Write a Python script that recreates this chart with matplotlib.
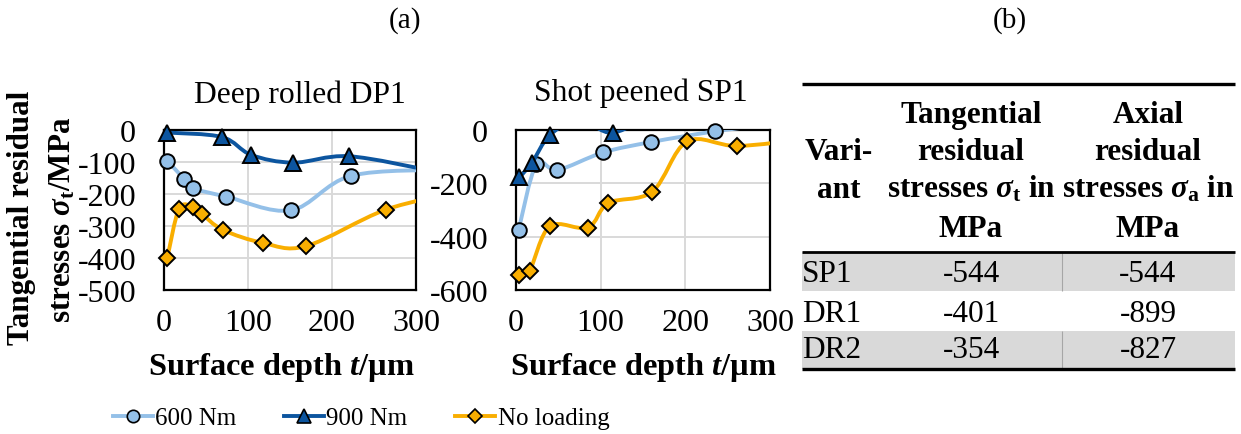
import numpy as np
import matplotlib
matplotlib.use("Agg")
import matplotlib.pyplot as plt
from matplotlib.path import Path
from matplotlib.patches import PathPatch
from matplotlib.lines import Line2D

# ---------------------------------------------------------------
# DATA (points beyond the axes are only
# there so the smoothed lines leave the plot area like in Excel)
# ---------------------------------------------------------------
# Deep rolled DP1
dp_600_x = [4, 24, 35, 74, 151, 223, 340]
dp_600_y = [-96, -153, -182, -208, -251, -143, -124]
dp_900_x = [4, 69, 104, 154, 220, 320]
dp_900_y = [-8, -22, -78, -102, -82, -128]
dp_nl_x = [4, 18, 35, 45, 70, 118, 169, 264, 350]
dp_nl_y = [-399, -246, -241, -262, -312, -353, -363, -249, -195]

# Shot peened SP1
sp_600_x = [3, 24, 49, 103, 160, 235, 320]
sp_600_y = [-376, -129, -150, -84, -45, -5, 30]
sp_900_x = [4, 19, 40, 75, 115, 170]
sp_900_y = [-178, -122, -19, 40, -10, 80]
sp_nl_x = [3, 16, 40, 85, 109, 161, 202, 261, 340]
sp_nl_y = [-544, -528, -361, -366, -274, -231, -43, -60, -35]

series_names = ["600 Nm", "900 Nm", "No loading"]

# table (b)
table_variants = ["SP1", "DR1", "DR2"]
table_tangential = ["-544", "-401", "-354"]
table_axial = ["-544", "-899", "-827"]

# ---------------------------------------------------------------
# STYLE
# ---------------------------------------------------------------
plt.rcParams["font.family"] = ["Liberation Serif", "DejaVu Serif"]
plt.rcParams["axes.unicode_minus"] = False
plt.rcParams["mathtext.fontset"] = "custom"
plt.rcParams["mathtext.rm"] = "Liberation Serif:bold"
plt.rcParams["mathtext.it"] = "Liberation Serif:italic:bold"
plt.rcParams["mathtext.bf"] = "Liberation Serif:bold"

COLORS = ["#94C0E8", "#0C559F", "#F9AE00"]
MARKERS = ["o", "^", "D"]
MSIZE = [10.5, 11.5, 8.3]
FS = 23
W, H = 1241, 435


def smooth_path(xs, ys):
    # Excel-like smoothed line: cubic bezier through the points
    pts = np.column_stack([xs, ys]).astype(float)
    n = len(pts)
    verts = [pts[0]]
    codes = [Path.MOVETO]
    for i in range(n - 1):
        p0 = pts[max(i - 1, 0)]
        p1 = pts[i]
        p2 = pts[i + 1]
        p3 = pts[min(i + 2, n - 1)]
        verts += [p1 + (p2 - p0) / 6, p2 - (p3 - p1) / 6, p2]
        codes += [Path.CURVE4] * 3
    return Path(verts, codes)


def draw_series(ax, xs, ys, k, xmax):
    patch = PathPatch(smooth_path(xs, ys), facecolor="none",
                      edgecolor=COLORS[k], lw=2.8, zorder=3 + k)
    ax.add_patch(patch)
    xs = np.asarray(xs)
    ys = np.asarray(ys)
    keep = (xs <= xmax) & (ys <= 0)
    ax.plot(xs[keep], ys[keep], ls="none", marker=MARKERS[k],
            ms=MSIZE[k], mfc=COLORS[k], mec="black", mew=1.4,
            clip_on=False, zorder=3.5 + k)


fig = plt.figure(figsize=(W / 100, H / 100), dpi=100)

ax1 = fig.add_axes([164 / W, 1 - 291 / H, 252 / W, 160 / H])
ax2 = fig.add_axes([516 / W, 1 - 291 / H, 254 / W, 160 / H])

data = [
    (ax1, [(dp_600_x, dp_600_y), (dp_900_x, dp_900_y), (dp_nl_x, dp_nl_y)],
     -500, 100, "Deep rolled DP1", 0.54, 1.225, 0.464),
    (ax2, [(sp_600_x, sp_600_y), (sp_900_x, sp_900_y), (sp_nl_x, sp_nl_y)],
     -600, 200, "Shot peened SP1", 0.492, 1.237, 0.5),
]

for ax, ser, ymin, ystep, title, tx, ty, lx in data:
    for k, (xs, ys) in enumerate(ser):
        draw_series(ax, xs, ys, k, 300)
    ax.set_xlim(0, 300)
    ax.set_ylim(ymin, 0)
    ax.set_xticks([0, 100, 200, 300])
    ax.set_yticks(np.arange(ymin, 1, ystep))
    ax.grid(True, color="#D9D9D9", lw=1.4, zorder=0)
    ax.set_axisbelow(True)
    for sp in ax.spines.values():
        sp.set_linewidth(1.6)
        sp.set_zorder(2.5)
    ax.tick_params(axis="y", length=0, pad=20, labelsize=FS)
    ax.tick_params(axis="x", length=0, pad=13, labelsize=FS)
    ax.text(tx, ty, title, transform=ax.transAxes, ha="center",
            va="center", fontsize=22.7)
    ax.set_xlabel("Surface depth $t$/µm", fontsize=23.3, fontweight="bold")
    ax.xaxis.set_label_coords(lx, -0.48)
    ax.xaxis.label.set_va("center")

# y label (two lines, rotated)
fig.text(22 / W, 1 - 218 / H, "Tangential residual", rotation=90,
         ha="center", va="center", fontsize=22.3, fontweight="bold")
fig.text(63 / W, 1 - 220 / H, r"stresses $\sigma_{\mathrm{t}}$/MPa",
         rotation=90, ha="center", va="center", fontsize=22.3,
         fontweight="bold")

# panel letters
fig.text(405 / W, 1 - 21 / H, "(a)", ha="center", va="center", fontsize=21)
fig.text(1010 / W, 1 - 21 / H, "(b)", ha="center", va="center", fontsize=21)

# legend
handles = [Line2D([], [], color=COLORS[k], lw=2.8, marker=MARKERS[k],
                  ms=MSIZE[k] * 0.85, mfc=COLORS[k], mec="black", mew=1.2)
           for k in range(3)]
fig.legend(handles, series_names, loc="center",
           bbox_to_anchor=(361 / W, 1 - 419 / H), ncol=3, frameon=False,
           fontsize=18, handlelength=1.6, handletextpad=0.1,
           columnspacing=1.9)

# ---------------------------------------------------------------
# TABLE (b) drawn on an overlay axes in pixel coordinates
# ---------------------------------------------------------------
tab = fig.add_axes([0, 0, 1, 1], zorder=-1)
tab.set_xlim(0, W)
tab.set_ylim(H, 0)
tab.axis("off")

t_left, t_right = 802, 1235
col_split = 1062
row_edges = [253, 292, 332, 370]
col1_c, col2_c, col3_c = 839, 971, 1148
TFS = 22.5

for r in range(3):
    if r % 2 == 0:
        tab.fill_between([t_left, t_right], row_edges[r], row_edges[r + 1],
                         color="#D9D9D9", lw=0)
        tab.vlines(col_split, row_edges[r], row_edges[r + 1],
                   color="#A6A6A6", lw=0.8)
tab.hlines(85, t_left, t_right, color="black", lw=2.4)
tab.hlines(row_edges[0], t_left, t_right, color="black", lw=2.0)
tab.hlines(row_edges[-1], t_left, t_right, color="black", lw=2.4)

head_base = [123, 160, 198, 237]
head_col1 = ["", "Vari-", "ant", ""]
head_col2 = ["Tangential", "residual", r"stresses $\sigma_{\mathrm{t}}$ in", "MPa"]
head_col3 = ["Axial", "residual", r"stresses $\sigma_{\mathrm{a}}$ in", "MPa"]
for yb, a, b, c in zip(head_base, head_col1, head_col2, head_col3):
    for xc, s in [(col1_c, a), (col2_c, b), (col3_c, c)]:
        if s:
            tab.text(xc, yb, s, ha="center", va="baseline",
                     fontsize=TFS, fontweight="bold")

row_base = [282, 322, 358]
for yb, v, tg, ax_ in zip(row_base, table_variants, table_tangential,
                          table_axial):
    tab.text(t_left, yb, v, ha="left", va="baseline", fontsize=TFS)
    tab.text(col2_c, yb, tg, ha="center", va="baseline", fontsize=TFS)
    tab.text(col3_c, yb, ax_, ha="center", va="baseline", fontsize=TFS)

fig.savefig("out.png", dpi=100)
